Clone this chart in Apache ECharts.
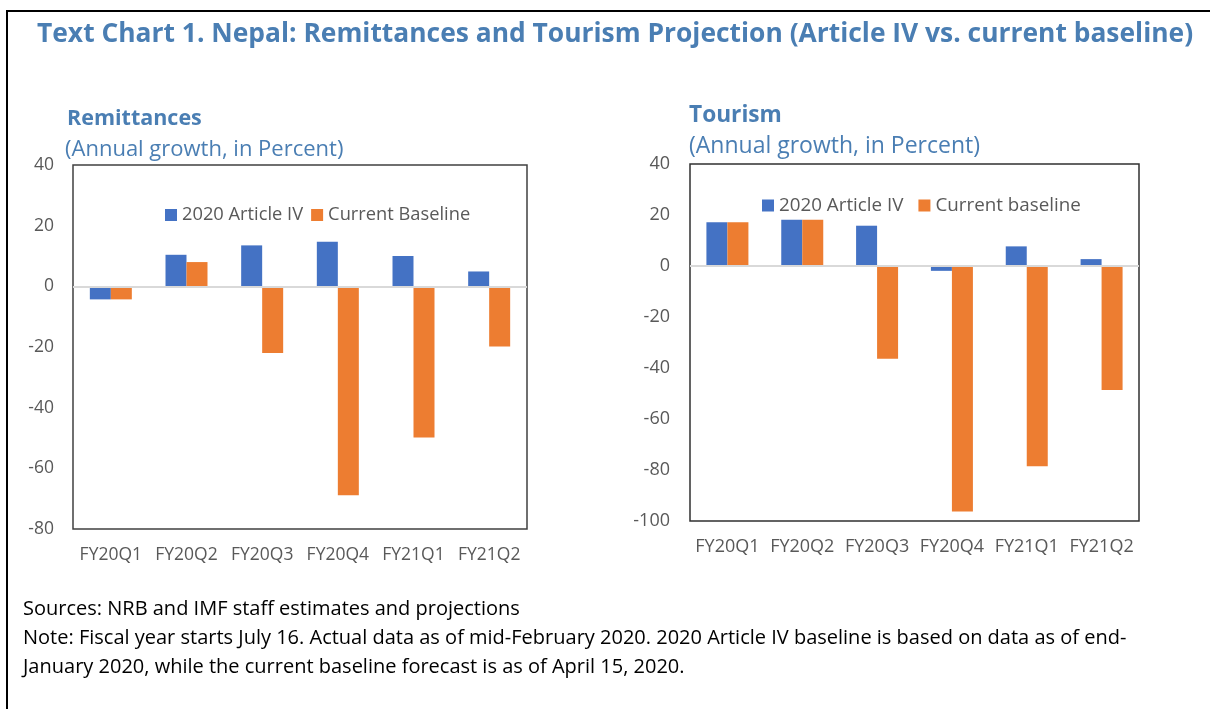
<!DOCTYPE html>
<html>
<head>
    <meta charset="utf-8">
    <title>Nepal: Remittances and Tourism Projection</title>
    <script src="https://cdn.jsdelivr.net/npm/echarts@6/dist/echarts.min.js"></script>
    <style>
        html,body{
            height: 100%;
            margin: 0;
            padding: 0;
            background: #fff;
        }
    </style>
</head>
<body>
    <div id="main" style="width: 1210px;height:709px;"></div>
    <script type="text/javascript">
    // data
    var quarters = ['FY20Q1', 'FY20Q2', 'FY20Q3', 'FY20Q4', 'FY21Q1', 'FY21Q2'];

    var remitArticleIV = [-4.3, 10.4, 13.5, 14.7, 10.0, 4.9];
    var remitBaseline  = [-4.3, 8.0, -22.0, -68.9, -49.8, -19.8];

    var tourArticleIV = [17.2, 18.1, 15.8, -1.9, 7.7, 2.7];
    var tourBaseline  = [17.2, 18.1, -36.4, -96.3, -78.5, -48.6];

    var blue = '#4472C4';
    var orange = '#ED7D31';
    var titleBlue = '#4A7EB3';
    var axisGrey = '#595959';
    var font = '"Open Sans", "Noto Sans", sans-serif';

    var myChart = echarts.init(document.getElementById('main'));

    function txt(x, y, text, size, weight, color) {
        return {
            type: 'text',
            x: x,
            y: y,
            style: {
                text: text,
                fontFamily: font,
                fontSize: size,
                fontWeight: weight,
                fill: color,
                textVerticalAlign: 'middle'
            }
        };
    }

    var zeroLine = {
        silent: true,
        symbol: 'none',
        label: {show: false},
        lineStyle: {color: '#d9d9d9', width: 2, type: 'solid'},
        data: [{yAxis: 0}]
    };

    option = {
        animation: false,
        textStyle: {fontFamily: font},
        grid: [
            {left: 73, top: 165, width: 454, height: 364, show: true, borderColor: '#404040', borderWidth: 1.5},
            {left: 690, top: 164, width: 449, height: 357, show: true, borderColor: '#303030', borderWidth: 1.5}
        ],
        legend: [
            {
                data: ['2020 Article IV', 'Current Baseline'],
                left: 165, top: 206, padding: 0,
                icon: 'rect', itemWidth: 12, itemHeight: 12, itemGap: 8,
                textStyle: {fontSize: 18.3, color: axisGrey, fontFamily: font}
            },
            {
                data: ['2020 Article IV', 'Current baseline'],
                left: 762, top: 196, padding: 0,
                icon: 'rect', itemWidth: 12, itemHeight: 12, itemGap: 15,
                textStyle: {fontSize: 18.8, color: axisGrey, fontFamily: font}
            }
        ],
        xAxis: [
            {
                type: 'category', gridIndex: 0, data: quarters,
                axisLine: {show: false, onZero: false},
                axisTick: {show: false},
                axisLabel: {color: axisGrey, fontSize: 17.5, margin: 17, interval: 0}
            },
            {
                type: 'category', gridIndex: 1, data: quarters,
                axisLine: {show: false, onZero: false},
                axisTick: {show: false},
                axisLabel: {color: axisGrey, fontSize: 18, margin: 17, interval: 0}
            }
        ],
        yAxis: [
            {
                type: 'value', gridIndex: 0, min: -80, max: 40, interval: 20,
                splitLine: {show: false},
                axisLine: {show: false},
                axisLabel: {color: axisGrey, fontSize: 17.5, margin: 19}
            },
            {
                type: 'value', gridIndex: 1, min: -100, max: 40, interval: 20,
                splitLine: {show: false},
                axisLine: {show: false},
                axisLabel: {color: axisGrey, fontSize: 18, margin: 20}
            }
        ],
        series: [
            {
                name: '2020 Article IV', type: 'bar', xAxisIndex: 0, yAxisIndex: 0,
                data: remitArticleIV, barWidth: 21, barGap: '0%',
                itemStyle: {color: blue},
                markLine: zeroLine
            },
            {
                name: 'Current Baseline', type: 'bar', xAxisIndex: 0, yAxisIndex: 0,
                data: remitBaseline, barWidth: 21, barGap: '0%',
                itemStyle: {color: orange}
            },
            {
                name: '2020 Article IV', type: 'bar', xAxisIndex: 1, yAxisIndex: 1,
                data: tourArticleIV, barWidth: 21, barGap: '0%',
                itemStyle: {color: blue},
                markLine: zeroLine
            },
            {
                name: 'Current baseline', type: 'bar', xAxisIndex: 1, yAxisIndex: 1,
                data: tourBaseline, barWidth: 21, barGap: '0%',
                itemStyle: {color: orange}
            }
        ],
        graphic: [
            // outer frame (top and left edges)
            {type: 'line', shape: {x1: 6, y1: 11, x2: 1210, y2: 11}, style: {stroke: '#000', lineWidth: 2}},
            {type: 'line', shape: {x1: 7, y1: 10, x2: 7, y2: 709}, style: {stroke: '#000', lineWidth: 2}},
            txt(37, 34, 'Text Chart 1. Nepal: Remittances and Tourism Projection (Article IV vs. current baseline)', 26.4, 'bold', titleBlue),
            txt(67, 119, 'Remittances', 21.5, 'bold', titleBlue),
            txt(65, 150, '(Annual growth, in Percent)', 22, 'normal', titleBlue),
            txt(689, 116, 'Tourism', 22.7, 'bold', titleBlue),
            txt(689, 146, '(Annual growth, in Percent)', 23, 'normal', titleBlue),
            txt(23, 609, 'Sources: NRB and IMF staff estimates and projections', 20, 'normal', '#000'),
            txt(23, 638, 'Note: Fiscal year starts July 16. Actual data as of mid-February 2020. 2020 Article IV baseline is based on data as of end-', 20, 'normal', '#000'),
            txt(23, 667, 'January 2020, while the current baseline forecast is as of April 15, 2020.', 20, 'normal', '#000')
        ]
    };

    myChart.setOption(option);
    </script>
</body>
</html>
